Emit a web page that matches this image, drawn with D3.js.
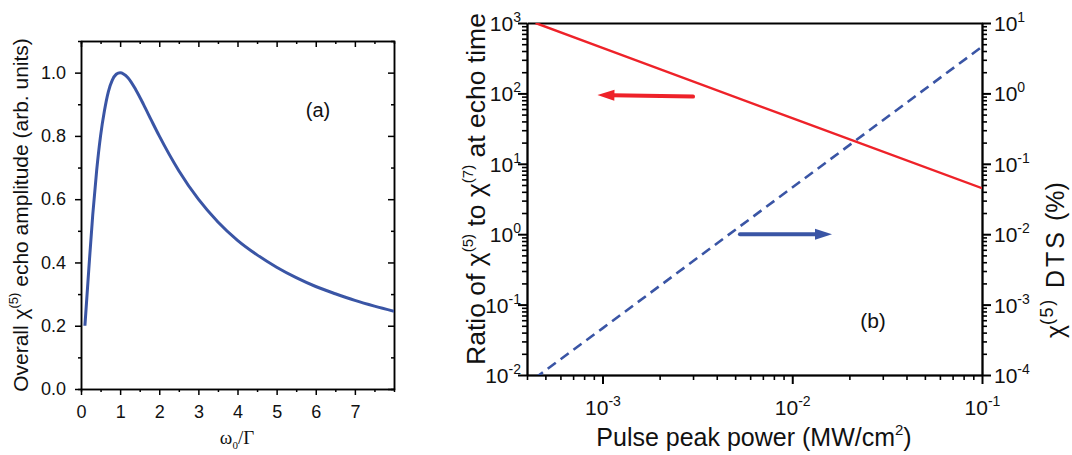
<!DOCTYPE html>
<html>
<head>
<meta charset="utf-8">
<script src="https://cdn.jsdelivr.net/npm/d3@7"></script>
<style>
  body{ margin:0; background:#fff; }
  text{ font-family:"Liberation Sans", Arial, Helvetica, sans-serif; fill:#111; }
</style>
</head>
<body>
<svg id="chart" width="1072" height="455"></svg>
<script>
// ---- panel (a) : overall chi(5) echo amplitude vs w0/Gamma ----
var echo_x = [ 0.1, 0.2, 0.3, 0.4, 0.5, 0.6, 0.7, 0.8, 0.9, 1.0, 1.2, 1.4, 1.6, 1.8, 2.0,
               2.5, 3.0, 3.5, 4.0, 4.5, 5.0, 5.5, 6.0, 6.5, 7.0, 7.5, 8.0 ];
var echo_y = [ 0.20, 0.38, 0.55, 0.69, 0.80, 0.88, 0.94, 0.976, 0.995, 1.0, 0.984, 0.946, 0.899, 0.849, 0.80,
               0.69, 0.60, 0.528, 0.47, 0.424, 0.385, 0.352, 0.324, 0.301, 0.28, 0.262, 0.246 ];
var a_xticks = [ 0, 1, 2, 3, 4, 5, 6, 7 ];
var a_yticks = [ 0.0, 0.2, 0.4, 0.6, 0.8, 1.0 ];

// ---- panel (b) : ratio (left axis) and DTS (right axis) vs pulse peak power ----
var ratio_power = [ 4.44e-4, 1e-3, 1e-2, 1e-1 ];
var ratio_vals  = [ 1000, 444, 44.4, 4.5 ];
var dts_power   = [ 4.4e-4, 1e-3, 1e-2, 1e-1 ];
var dts_vals    = [ 9.0e-5, 4.6e-4, 4.6e-2, 4.6 ];
var power_ticks = [ 1e-3, 1e-2, 1e-1 ];
var ratio_ticks = [ 1e-2, 1e-1, 1e0, 1e1, 1e2, 1e3 ];
var dts_ticks   = [ 1e-4, 1e-3, 1e-2, 1e-1, 1e0, 1e1 ];
// arrows : [ x_tail, y_tail, x_tip, y_tip ]
var ratio_arrow = [ 3e-3, 90, 9.4e-4, 95 ];
var dts_arrow   = [ 5.3e-3, 0.01, 1.62e-2, 0.01 ];

var RED = "#ee2229";
var BLUE = "#3a55a5";

var svg = d3.select( "#chart" );

function minorLog( domain ){
  var out = [];
  var lo = Math.floor( Math.log10( domain[ 0 ] ) ), hi = Math.ceil( Math.log10( domain[ 1 ] ) );
  for( var e = lo ; e < hi ; e++ ){
    for( var m = 2 ; m <= 9 ; m++ ){
      var v = m * Math.pow( 10, e );
      if( v >= domain[ 0 ] * 0.999 && v <= domain[ 1 ] * 1.001 ) out.push( v );
    }
  }
  return out;
}

function styleAxis( g, width ){
  g.attr( "font-size", null ).attr( "font-family", null );
  g.selectAll( "path.domain" ).attr( "stroke", "#000" ).attr( "stroke-width", width );
  g.selectAll( ".tick line" ).attr( "stroke", "#000" ).attr( "stroke-width", width );
}

function powerLabel( sel, size, supSize, supDy ){
  sel.each( function( d ){
    var t = d3.select( this );
    var e = Math.round( Math.log10( d ) );
    t.text( null ).style( "font-size", size + "px" );
    t.append( "tspan" ).text( "10" );
    t.append( "tspan" ).attr( "dy", supDy ).style( "font-size", supSize + "px" ).text( e < 0 ? "-" + ( -e ) : e );
  } );
}

// ================= panel (a) =================
var xa = d3.scaleLinear().domain( [ 0, 8 ] ).range( [ 81, 394 ] );
var ya = d3.scaleLinear().domain( [ 0, 1.1 ] ).range( [ 389, 41 ] );
var a_xminor = d3.range( 0.5, 8, 1 );
var a_yminor = d3.range( 0.1, 1.1, 0.2 );

var ga = svg.append( "g" ).attr( "class", "panel-a" );

// minor ticks
ga.append( "g" ).attr( "transform", "translate(0,389)" )
  .call( d3.axisBottom( xa ).tickValues( a_xminor ).tickSize( 3 ).tickFormat( "" ) ).call( styleAxis, 1.5 );
ga.append( "g" ).attr( "transform", "translate(0,41)" )
  .call( d3.axisTop( xa ).tickValues( a_xminor ).tickSize( -3 ).tickFormat( "" ) ).call( styleAxis, 1.5 );
ga.append( "g" ).attr( "transform", "translate(81,0)" )
  .call( d3.axisLeft( ya ).tickValues( a_yminor ).tickSize( 3 ).tickFormat( "" ) ).call( styleAxis, 1.5 );
ga.append( "g" ).attr( "transform", "translate(394,0)" )
  .call( d3.axisRight( ya ).tickValues( a_yminor ).tickSize( -3 ).tickFormat( "" ) ).call( styleAxis, 1.5 );

// major ticks
var ax_b = ga.append( "g" ).attr( "transform", "translate(0,389)" )
  .call( d3.axisBottom( xa ).tickValues( a_xticks ).tickSize( 6 ).tickSizeOuter( 0 ).tickPadding( 10 ).tickFormat( d3.format( "d" ) ) );
ax_b.call( styleAxis, 1.5 );
ax_b.selectAll( "text" ).style( "font-size", "18px" ).attr( "fill", "#111" );

ga.append( "g" ).attr( "transform", "translate(0,41)" )
  .call( d3.axisTop( xa ).tickValues( a_xticks ).tickSize( -6 ).tickSizeOuter( 0 ).tickFormat( "" ) ).call( styleAxis, 1.5 );

var ax_l = ga.append( "g" ).attr( "transform", "translate(81,0)" )
  .call( d3.axisLeft( ya ).tickValues( a_yticks ).tickSize( 6 ).tickSizeOuter( 0 ).tickPadding( 9 ).tickFormat( d3.format( ".1f" ) ) );
ax_l.call( styleAxis, 1.5 );
ax_l.selectAll( "text" ).style( "font-size", "18px" ).attr( "fill", "#111" );

ga.append( "g" ).attr( "transform", "translate(394,0)" )
  .call( d3.axisRight( ya ).tickValues( a_yticks ).tickSize( -6 ).tickSizeOuter( 0 ).tickFormat( "" ) ).call( styleAxis, 1.5 );

ga.append( "clipPath" ).attr( "id", "clip-a" ).append( "rect" )
  .attr( "x", 81 ).attr( "y", 41 ).attr( "width", 313 ).attr( "height", 348 );

ga.append( "path" )
  .datum( d3.zip( echo_x, echo_y ) )
  .attr( "clip-path", "url(#clip-a)" )
  .attr( "fill", "none" ).attr( "stroke", BLUE ).attr( "stroke-width", 3 )
  .attr( "d", d3.line().x( function( d ){ return xa( d[ 0 ] ); } ).y( function( d ){ return ya( d[ 1 ] ); } ).curve( d3.curveMonotoneX ) );

ga.append( "text" ).attr( "x", 318 ).attr( "y", 117 ).attr( "text-anchor", "middle" ).style( "font-size", "20px" ).text( "(a)" );

// y title
var ta = ga.append( "text" ).attr( "transform", "translate(28,215) rotate(-90)" )
  .attr( "text-anchor", "middle" ).style( "font-size", "21px" );
ta.append( "tspan" ).text( "Overall χ" );
ta.append( "tspan" ).attr( "dy", -10 ).style( "font-size", "13px" ).text( "(5)" );
ta.append( "tspan" ).attr( "dy", 10 ).text( " echo amplitude (arb. units)" );

// x title
var xt = ga.append( "text" ).attr( "x", 237 ).attr( "y", 444 ).attr( "text-anchor", "middle" )
  .style( "font-family", "'Liberation Serif', 'DejaVu Serif', serif" ).style( "font-size", "19px" );
xt.append( "tspan" ).text( "ω" );
xt.append( "tspan" ).attr( "dy", 5 ).style( "font-size", "11px" ).text( "0" );
xt.append( "tspan" ).attr( "dy", -5 ).text( "/Γ" );

// ================= panel (b) =================
var xb = d3.scaleLog().domain( [ 4e-4, 0.1 ] ).range( [ 527, 982 ] );
var yl = d3.scaleLog().domain( [ 1e-2, 1e3 ] ).range( [ 375, 23 ] );
var yr = d3.scaleLog().domain( [ 1e-4, 1e1 ] ).range( [ 375, 23 ] );

var gb = svg.append( "g" ).attr( "class", "panel-b" );

gb.append( "clipPath" ).attr( "id", "clip-b" ).append( "rect" )
  .attr( "x", 527 ).attr( "y", 23 ).attr( "width", 455 ).attr( "height", 352 );

// minor ticks
gb.append( "g" ).attr( "transform", "translate(0,375)" )
  .call( d3.axisBottom( xb ).tickValues( minorLog( xb.domain() ) ).tickSize( 5 ).tickSizeOuter( 0 ).tickFormat( "" ) ).call( styleAxis, 1.6 );
gb.append( "g" ).attr( "transform", "translate(527,0)" )
  .call( d3.axisLeft( yl ).tickValues( minorLog( yl.domain() ) ).tickSize( 5 ).tickSizeOuter( 0 ).tickFormat( "" ) ).call( styleAxis, 1.6 );
gb.append( "g" ).attr( "transform", "translate(982,0)" )
  .call( d3.axisRight( yr ).tickValues( minorLog( yr.domain() ) ).tickSize( 5 ).tickSizeOuter( 0 ).tickFormat( "" ) ).call( styleAxis, 1.6 );

// major ticks + labels
var bx = gb.append( "g" ).attr( "transform", "translate(0,375)" )
  .call( d3.axisBottom( xb ).tickValues( power_ticks ).tickSize( 9 ).tickSizeOuter( 0 ).tickPadding( 14 ) );
bx.call( styleAxis, 2 );
bx.selectAll( ".tick text" ).attr( "dy", null ).attr( "y", 40 ).attr( "dx", 0 )
  .call( powerLabel, 21, 14, -9 );

var bl = gb.append( "g" ).attr( "transform", "translate(527,0)" )
  .call( d3.axisLeft( yl ).tickValues( ratio_ticks ).tickSize( 9 ).tickSizeOuter( 0 ) );
bl.call( styleAxis, 2 );
bl.selectAll( ".tick text" ).attr( "x", -6 ).attr( "dy", "0.36em" ).call( powerLabel, 21, 14, -9 );

var br = gb.append( "g" ).attr( "transform", "translate(982,0)" )
  .call( d3.axisRight( yr ).tickValues( dts_ticks ).tickSize( 9 ).tickSizeOuter( 0 ) );
br.call( styleAxis, 2 );
br.selectAll( ".tick text" ).attr( "x", 12 ).attr( "dy", "0.36em" ).call( powerLabel, 21, 14, -9 );

// top frame line
gb.append( "g" ).attr( "transform", "translate(0,23)" )
  .call( d3.axisTop( xb ).tickValues( [] ).tickSizeOuter( 0 ) ).call( styleAxis, 2.2 );

var lineR = d3.line().x( function( d ){ return xb( d[ 0 ] ); } ).y( function( d ){ return yl( d[ 1 ] ); } );
var lineD = d3.line().x( function( d ){ return xb( d[ 0 ] ); } ).y( function( d ){ return yr( d[ 1 ] ); } );

gb.append( "path" ).datum( d3.zip( dts_power, dts_vals ) )
  .attr( "clip-path", "url(#clip-b)" )
  .attr( "fill", "none" ).attr( "stroke", BLUE ).attr( "stroke-width", 2.6 )
  .attr( "stroke-dasharray", "10,6" ).attr( "d", lineD );

gb.append( "path" ).datum( d3.zip( ratio_power, ratio_vals ) )
  .attr( "clip-path", "url(#clip-b)" )
  .attr( "fill", "none" ).attr( "stroke", RED ).attr( "stroke-width", 2.4 ).attr( "d", lineR );

function drawArrow( g, a, ys, color ){
  var x0 = xb( a[ 0 ] ), y0 = ys( a[ 1 ] ), x1 = xb( a[ 2 ] ), y1 = ys( a[ 3 ] );
  var ang = Math.atan2( y1 - y0, x1 - x0 );
  var hl = 17, hw = 5.5;
  var bxp = x1 - hl * Math.cos( ang ), byp = y1 - hl * Math.sin( ang );
  g.append( "line" ).attr( "x1", x0 ).attr( "y1", y0 ).attr( "x2", bxp + 2 * Math.cos( ang ) ).attr( "y2", byp + 2 * Math.sin( ang ) )
    .attr( "stroke", color ).attr( "stroke-width", 4 ).attr( "stroke-linecap", "round" );
  var px = -Math.sin( ang ), py = Math.cos( ang );
  g.append( "path" )
    .attr( "d", "M" + x1 + "," + y1 + "L" + ( bxp + px * hw ) + "," + ( byp + py * hw ) + "L" + ( bxp - px * hw ) + "," + ( byp - py * hw ) + "Z" )
    .attr( "fill", color );
}
drawArrow( gb, ratio_arrow, yl, RED );
drawArrow( gb, dts_arrow, yr, BLUE );

gb.append( "text" ).attr( "x", 873 ).attr( "y", 328 ).attr( "text-anchor", "middle" ).style( "font-size", "21px" ).text( "(b)" );

// left title
var tl = gb.append( "text" ).attr( "transform", "translate(485,189) rotate(-90)" )
  .attr( "text-anchor", "middle" ).style( "font-size", "26.5px" );
tl.append( "tspan" ).text( "Ratio of χ" );
tl.append( "tspan" ).attr( "dy", -12 ).style( "font-size", "15px" ).text( "(5)" );
tl.append( "tspan" ).attr( "dy", 12 ).text( " to χ" );
tl.append( "tspan" ).attr( "dy", -12 ).style( "font-size", "15px" ).text( "(7)" );
tl.append( "tspan" ).attr( "dy", 12 ).text( " at echo time" );

// right title (rotated, starts near the bottom)
var tr = gb.append( "text" ).attr( "transform", "translate(1064,338) rotate(-90)" )
  .attr( "text-anchor", "start" ).style( "font-size", "25px" );
tr.append( "tspan" ).attr( "x", 0 ).text( "χ" );
tr.append( "tspan" ).attr( "dy", -11 ).style( "font-size", "18px" ).style( "letter-spacing", "1.5px" ).text( "(5)" );
tr.append( "tspan" ).attr( "x", 50 ).attr( "dy", 11 ).attr( "textLength", 56 ).text( "DTS" );
tr.append( "tspan" ).attr( "x", 117 ).text( "(%)" );

// bottom title
var tb = gb.append( "text" ).attr( "x", 754 ).attr( "y", 446 ).attr( "text-anchor", "middle" ).style( "font-size", "25px" );
tb.append( "tspan" ).text( "Pulse peak power (MW/cm" );
tb.append( "tspan" ).attr( "dy", -11 ).style( "font-size", "15px" ).text( "2" );
tb.append( "tspan" ).attr( "dy", 11 ).text( ")" );
</script>
</body>
</html>
